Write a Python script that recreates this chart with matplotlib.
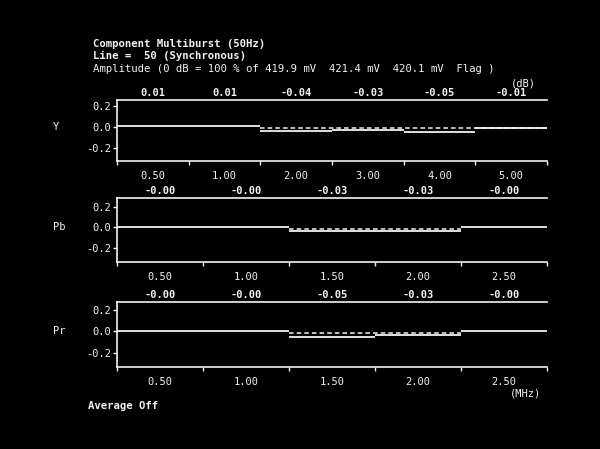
import matplotlib.pyplot as plt
import matplotlib.transforms as mtransforms

# measured levels (dB) per burst packet
y_vals = [0.01, 0.01, -0.04, -0.03, -0.05, -0.01]
pb_vals = [-0.00, -0.00, -0.03, -0.03, -0.00]
pr_vals = [-0.00, -0.00, -0.05, -0.03, -0.00]

# frequency labels (MHz) per packet
y_freqs = ['0.50', '1.00', '2.00', '3.00', '4.00', '5.00']
pbpr_freqs = ['0.50', '1.00', '1.50', '2.00', '2.50']

# value labels as printed on screen
y_labels = ['0.01', '0.01', '-0.04', '-0.03', '-0.05', '-0.01']
pb_labels = ['-0.00', '-0.00', '-0.03', '-0.03', '-0.00']
pr_labels = ['-0.00', '-0.00', '-0.05', '-0.03', '-0.00']

# flag (dashed) level and the packets it spans
flag_level = -0.015
y_flag = (2, 6)
pb_flag = (2, 4)
pr_flag = (2, 4)

fg = '#f2f2f2'
mono = 'DejaVu Sans Mono'

fig = plt.figure(figsize=(6, 4.49), dpi=100, facecolor='black')
W, H = 600, 449


def panel(top, bottom, name, vals, labels, freqs, flag, ylim):
    ax = fig.add_axes([117 / W, (H - bottom) / H, 430 / W, (bottom - top) / H])
    ax.set_facecolor('black')
    n = len(vals)
    starts = list(range(n))
    ends = [s + 1 for s in starts]
    ax.hlines(vals, starts, ends, colors=fg, lw=1.3)
    ax.hlines(flag_level, flag[0], flag[1], colors=fg, lw=1.1, linestyles=(0, (3, 2)))
    ax.set_xlim(0, n)
    ax.set_ylim(*ylim)
    for s in ['left', 'top', 'bottom']:
        ax.spines[s].set_color(fg)
        ax.spines[s].set_linewidth(1.2)
    ax.spines['right'].set_visible(False)
    ax.set_xticks(range(n + 1))
    ax.set_xticklabels([])
    ax.set_xticks([i + 0.5 for i in range(n)], minor=True)
    ax.set_xticklabels(freqs, minor=True, fontsize=7.5, family=mono, color=fg)
    ax.tick_params(axis='x', which='major', direction='out', length=3, color=fg, width=1)
    ax.tick_params(axis='x', which='minor', length=0, pad=7)
    ax.set_yticks([0.2, 0.0, -0.2])
    ax.set_yticklabels(['0.2', '0.0', '-0.2'], fontsize=7.5, family=mono, color=fg)
    ax.tick_params(axis='y', direction='out', length=3, color=fg, width=1, pad=1)
    trans = mtransforms.blended_transform_factory(ax.transData, ax.transAxes)
    for i, lab in enumerate(labels):
        ax.text(i + 0.5, 1.03, lab, transform=trans, ha='center', va='bottom',
                fontsize=7.5, family=mono, weight='bold', color=fg)
    fig.text(53 / W, 1 - ((top + bottom) / 2 - 3) / H, name, fontsize=7.5,
             family=mono, color=fg, va='center', ha='left')
    return ax


panel(100, 161, 'Y', y_vals, y_labels, y_freqs, y_flag, (-0.33, 0.26))
panel(198, 262, 'Pb', pb_vals, pb_labels, pbpr_freqs, pb_flag, (-0.34, 0.29))
panel(302, 367, 'Pr', pr_vals, pr_labels, pbpr_freqs, pr_flag, (-0.33, 0.27))

fig.text(93 / W, 1 - 44 / H, 'Component Multiburst (50Hz)', fontsize=7.7,
         family=mono, weight='bold', color=fg, va='center')
fig.text(93 / W, 1 - 56 / H, 'Line =  50 (Synchronous)', fontsize=7.7,
         family=mono, weight='bold', color=fg, va='center')
fig.text(93 / W, 1 - 69 / H,
         'Amplitude (0 dB = 100 % of 419.9 mV  421.4 mV  420.1 mV  Flag )',
         fontsize=7.7, family=mono, color=fg, va='center')
fig.text(523 / W, 1 - 83 / H, '(dB)', fontsize=7.5, family=mono, color=fg,
         ha='center', va='center')
fig.text(525 / W, 1 - 394 / H, '(MHz)', fontsize=7.5, family=mono, color=fg,
         ha='center', va='center')
fig.text(88 / W, 1 - 406 / H, 'Average Off', fontsize=7.7, family=mono,
         weight='bold', color=fg, va='center')

fig.savefig('out.png', dpi=100, facecolor='black')
